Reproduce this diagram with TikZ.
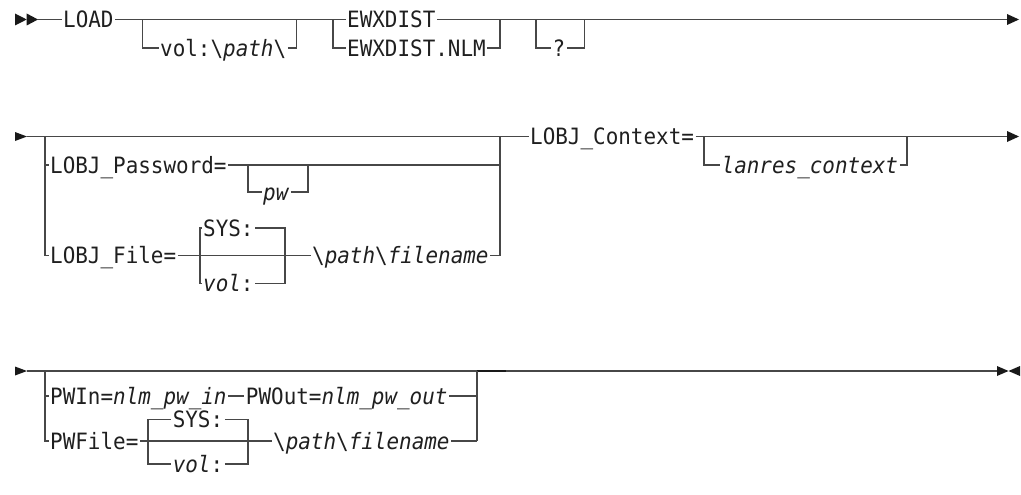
\documentclass[tikz,border=0pt]{standalone}
\usepackage{fontspec}
\setmainfont[FakeStretch=0.93]{DejaVu Sans Mono}
\usetikzlibrary{positioning}
\newcommand{\dfs}{\fontsize{22.5pt}{26pt}\selectfont}
\tikzset{
  lbl/.style={anchor=west, inner xsep=1.5pt, inner ysep=0pt, text height=21.4pt, text depth=5pt, font=\dfs, text=black!88},
  rail/.style={draw=black!72, line width=1.2pt},
  tip/.style={fill=black!90},
}
\begin{document}
\begin{tikzpicture}[x=1pt,y=-1pt]
\useasboundingbox (0,0) rectangle (1021,495);

% ---------------- Row 1 ----------------
\fill[tip] (15,13.5) -- (26.7,19.5) -- (15,25.5) -- cycle;
\fill[tip] (26.7,13.5) -- (38,19.5) -- (26.7,25.5) -- cycle;
\coordinate (r1s) at (38,19.5);
\node[lbl] (load) at (61.5,19.5) {LOAD};
\coordinate (a1) at (142.7,19.5);
\coordinate (a2) at (296.7,19.5);
\node[lbl] (volp) at (158.5,48) {vol:\textbackslash\textit{path}\textbackslash};
\coordinate (b1) at (333,19.5);
\coordinate (b2) at (500,19.5);
\node[lbl] (ewx) at (345.5,19.5) {EWXDIST};
\node[lbl] (ewxn) at (345.5,48) {EWXDIST.NLM};
\coordinate (c1) at (536,19.5);
\coordinate (c2) at (584.3,19.5);
\node[lbl, anchor=center] (q) at (559,48) {?};
\coordinate (end1) at (1007,19.5);

\draw[rail] (r1s) -- (load.west);
\draw[rail] (load.east) -- (b1) -- (ewx.west);
\draw[rail] (a1) |- (volp.west);
\draw[rail] (volp.east) -| (a2);
\draw[rail] (b1) |- (ewxn.west);
\draw[rail] (ewx.east) -- (b2);
\draw[rail] (ewxn.east) -| (b2);
\draw[rail] (b2) -- (end1);
\draw[rail] (c1) |- (q.west);
\draw[rail] (q.east) -| (c2);
\fill[tip] (1007,14) -- (1019,19.5) -- (1007,25) -- cycle;

% ---------------- Row 2 ----------------
\fill[tip] (15,132) -- (27,136.5) -- (15,141) -- cycle;
\coordinate (r2s) at (27,136.5);
\coordinate (d1) at (45,136.5);
\coordinate (d2) at (500,136.5);
\coordinate (d2b) at (500,255.5);
\node[lbl] (lpw) at (48.5,165) {LOBJ\_Password=};
\coordinate (pa) at (248,165);
\coordinate (pb) at (308,165);
\node[lbl] (pw) at (261.5,192) {\textit{pw}};
\node[lbl] (lfile) at (48.5,255.5) {LOBJ\_File=};
\coordinate (s1) at (200,255.5);
\coordinate (s2) at (285,255.5);
\node[lbl] (sys1) at (201.5,228) {SYS:};
\node[lbl] (vol1) at (201.5,283.5) {\textit{vol}:};
\node[lbl] (fname) at (310.5,255.5) {\textbackslash\textit{path}\textbackslash\textit{filename}};
\node[lbl] (ctx) at (528.5,136.5) {LOBJ\_Context=};
\coordinate (t1) at (704,136.5);
\coordinate (t2) at (907,136.5);
\node[lbl] (lan) at (720,165) {\textit{lanres\_context}};
\coordinate (end2) at (1007,136.5);

\draw[rail] (r2s) -- (d1) -- (d2) -- (ctx.west);
\draw[rail] (d1) |- (lfile.west);
\draw[rail] (lpw.west -| d1) -- (lpw.west);
\draw[rail] (lpw.east) -- (lpw.east -| d2);
\draw[rail] (pa) |- (pw.west);
\draw[rail] (pw.east) -| (pb);
\draw[rail] (d2) -- (d2b);
\draw[rail] (lfile.east) -- (s1) -- (s2) -- (fname.west);
\draw[rail] (s1) |- (sys1.west);
\draw[rail] (sys1.east) -| (s2);
\draw[rail] (s1) |- (vol1.west);
\draw[rail] (vol1.east) -| (s2);
\draw[rail] (fname.east) -- (d2b);
\draw[rail] (ctx.east) -- (end2);
\draw[rail] (t1) |- (lan.west);
\draw[rail] (lan.east) -| (t2);
\fill[tip] (1007,131) -- (1019,136.5) -- (1007,142) -- cycle;

% ---------------- Row 3 ----------------
\fill[tip] (15,366.5) -- (27,371) -- (15,375.5) -- cycle;
\coordinate (r3s) at (27,371);
\coordinate (g1) at (45,371);
\coordinate (g2) at (477,371);
\coordinate (g2b) at (477,441);
\node[lbl] (pwin) at (48.5,396) {PWIn=\textit{nlm\_pw\_in}};
\node[lbl, right=16pt of pwin] (pwout) {PWOut=\textit{nlm\_pw\_out}};
\node[lbl] (pwf) at (48.5,441) {PWFile=};
\coordinate (u1) at (148,441);
\coordinate (u2) at (248,441);
\node[lbl, anchor=center] (sys2) at (198,419.5) {SYS:};
\node[lbl, anchor=center] (vol2) at (198,464) {\textit{vol}:};
\node[lbl] (fn2) at (271.5,441) {\textbackslash\textit{path}\textbackslash\textit{filename}};
\coordinate (end3) at (997,371);
\coordinate (thk) at (506,371);

\draw[rail] (r3s) -- (g1) -- (g2) -- (end3);
\draw[rail, line width=2.2pt, draw=black!90] (g2) -- (thk);
\draw[rail] (g1) |- (pwf.west);
\draw[rail] (pwin.west -| g1) -- (pwin.west);
\draw[rail] (pwin.east) -- (pwout.west);
\draw[rail] (pwout.east) -- (pwout.east -| g2);
\draw[rail] (g2) -- (g2b);
\draw[rail] (pwf.east) -- (u1) -- (u2) -- (fn2.west);
\draw[rail] (u1) |- (sys2.west);
\draw[rail] (sys2.east) -| (u2);
\draw[rail] (u1) |- (vol2.west);
\draw[rail] (vol2.east) -| (u2);
\draw[rail] (fn2.east) -- (g2b);
\fill[tip] (997,366) -- (1008.5,371) -- (997,376) -- cycle;
\fill[tip] (1020,366) -- (1008.5,371) -- (1020,376) -- cycle;
\end{tikzpicture}
\end{document}
